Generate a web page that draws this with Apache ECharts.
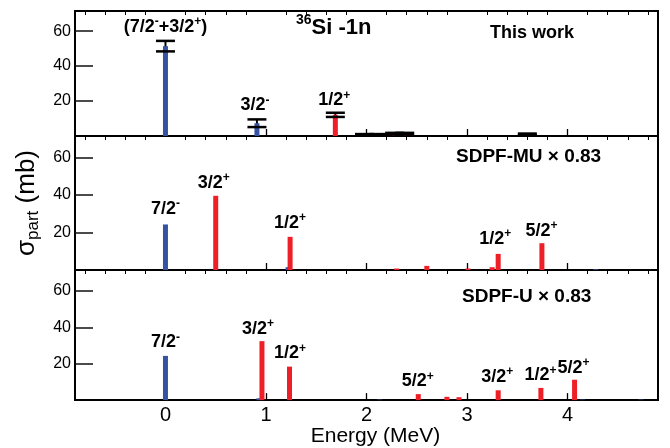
<!DOCTYPE html>
<html>
<head>
<meta charset="utf-8">
<script src="https://cdn.jsdelivr.net/npm/echarts@6/dist/echarts.min.js"></script>
<style>
html,body{margin:0;padding:0;background:#fff;}
#chart{width:670px;height:448px;}
</style>
</head>
<body>
<div id="chart"></div>
<script>
// ---------------- data ----------------
const energyRange = [-0.9, 4.9];
const sigmaRange = [0, 71.5];
const energyTicks = [0, 1, 2, 3, 4];
const sigmaTicks = [20, 40, 60];

// Panel 1: This work (experiment)
const expEnergy = [0, 0.91, 1.69, 1.98, 2.12, 2.28, 2.38, 3.60];
const expSigma  = [51.4, 7.3, 12.1, 0.7, 0.7, 1.3, 1.3, 1.0];
const expError  = [3.0, 2.2, 1.2, 0.4, 0.4, 0.5, 0.5, 0.4];
const expParity = ['-', '-', '+', '+', '+', '+', '+', '+'];
const expLabelText   = ['(7/2^-+3/2^+)', '3/2^-', '1/2^+'];
const expLabelEnergy = [0, 0.89, 1.68];
const expLabelSigma  = [62.9, 18.1, 21.0];

// Panel 2: SDPF-MU x 0.83
const muEnergy = [0, 0.50, 1.22, 1.24, 2.30, 2.60, 3.01, 3.25, 3.31, 3.745, 4.28];
const muSigma  = [24.3, 39.6, 1.5, 17.7, 0.8, 2.2, 0.8, 1.5, 8.6, 14.3, 0.4];
const muParity = ['-', '+', '-', '+', '+', '+', '+', '+', '+', '+', '-'];
const muLabelText   = ['7/2^-', '3/2^+', '1/2^+', '1/2^+', '5/2^+'];
const muLabelEnergy = [0, 0.48, 1.24, 3.28, 3.74];
const muLabelSigma  = [33.2, 47.2, 25.7, 17.2, 21.4];

// Panel 3: SDPF-U x 0.83
const uEnergy = [0, 0.93, 0.96, 1.234, 2.13, 2.515, 2.80, 2.92, 3.31, 3.735, 4.07, 4.15, 4.73];
const uSigma  = [24.3, 1.0, 32.4, 18.4, 0.3, 3.3, 1.8, 1.6, 5.4, 6.7, 11.2, 0.3, 0.3];
const uParity = ['-', '-', '+', '+', '-', '+', '+', '+', '+', '+', '+', '-', '-'];
const uLabelText   = ['7/2^-', '3/2^+', '1/2^+', '5/2^+', '3/2^+', '1/2^+', '5/2^+'];
const uLabelEnergy = [0, 0.92, 1.24, 2.51, 3.30, 3.73, 4.06];
const uLabelSigma  = [32.3, 39.8, 26.3, 10.8, 13.4, 14.1, 18.2];

// ---------------- styling ----------------
const FONT = '"Liberation Sans", Arial, Helvetica, sans-serif';
const BLUE = '#3652a3';
const RED = '#ee1f26';

const minorTicks = [];
for (let k = -4; k <= 24; k++) {
  const v = Math.round(k * 0.2 * 10) / 10;
  if (Math.abs(v - Math.round(v)) > 1e-6) minorTicks.push(v);
}

function spinRich(txt) {
  let out = '';
  const parts = txt.split(/(\^[+-])/);
  parts.forEach(p => {
    if (!p) return;
    if (p[0] === '^') out += '{p|' + p[1] + '}';
    else out += '{n|' + p + '}';
  });
  return out;
}

const labelRich = {
  n: {fontFamily: FONT, fontSize: 18, fontWeight: 'bold', color: '#000', verticalAlign: 'bottom', lineHeight: 20,
      textBorderWidth: 0},
  p: {fontFamily: FONT, fontSize: 12, fontWeight: 'bold', color: '#000', verticalAlign: 'top', lineHeight: 20,
      textBorderWidth: 0}
};

function barSeries(panel, energies, sigmas, parities, sign, color, z) {
  const data = [];
  energies.forEach((e, i) => { if (parities[i] === sign) data.push([e, sigmas[i]]); });
  return {
    type: 'custom', xAxisIndex: panel, yAxisIndex: panel, z: z, silent: true,
    data: data,
    renderItem: function (params, api) {
      const top = api.coord([api.value(0), api.value(1)]);
      const base = api.coord([api.value(0), 0]);
      return {type: 'rect', shape: {x: top[0] - 2.5, y: top[1], width: 5, height: base[1] - top[1]},
              style: {fill: color}};
    }
  };
}

function labelSeries(panel, texts, es, ss) {
  return {
    type: 'scatter', xAxisIndex: panel, yAxisIndex: panel, symbolSize: 0, silent: true, z: 10,
    itemStyle: {color: '#fff', opacity: 1},
    data: texts.map((t, i) => ({value: [es[i], ss[i]], label: {formatter: spinRich(t)}})),
    label: {show: true, position: 'inside', color: '#000', opacity: 1, textBorderWidth: 0, rich: labelRich}
  };
}

const errData = expEnergy.map((e, i) => [e, expSigma[i] - expError[i], expSigma[i] + expError[i]]);

const errLineSeries = {
  type: 'custom', xAxisIndex: 0, yAxisIndex: 0, z: 1, silent: true,
  encode: {x: 0, y: [1, 2]},
  data: errData,
  renderItem: function (params, api) {
    const lo = api.coord([api.value(0), api.value(1)]);
    const hi = api.coord([api.value(0), api.value(2)]);
    return {type: 'line', shape: {x1: lo[0], y1: lo[1], x2: hi[0], y2: hi[1]},
            style: {stroke: '#000', lineWidth: 2}};
  }
};
const errCapSeries = {
  type: 'custom', xAxisIndex: 0, yAxisIndex: 0, z: 5, silent: true,
  encode: {x: 0, y: [1, 2]},
  data: errData,
  renderItem: function (params, api) {
    const lo = api.coord([api.value(0), api.value(1)]);
    const hi = api.coord([api.value(0), api.value(2)]);
    const hw = 9.5;
    return {type: 'group', children: [
      {type: 'line', shape: {x1: lo[0] - hw, y1: lo[1], x2: lo[0] + hw, y2: lo[1]}, style: {stroke: '#000', lineWidth: 2.5}},
      {type: 'line', shape: {x1: hi[0] - hw, y1: hi[1], x2: hi[0] + hw, y2: hi[1]}, style: {stroke: '#000', lineWidth: 2.5}}
    ]};
  }
};

const gridTops = [11, 136, 270];
const gridHeights = [125, 134, 132];

const grids = gridTops.map((t, i) => ({
  left: 75, top: t, width: 583, height: gridHeights[i],
  show: true, borderColor: '#000', borderWidth: 2, backgroundColor: 'transparent'
}));

const xMain = [0, 1, 2].map(i => ({
  type: 'value', gridIndex: i, min: energyRange[0], max: energyRange[1],
  axisLine: {show: true, onZero: false, lineStyle: {color: '#000', width: 2}},
  axisTick: {show: true, inside: true, length: 7, customValues: energyTicks, lineStyle: {color: '#000', width: 1.3}},
  axisLabel: {show: i === 2, customValues: energyTicks, fontSize: 20, margin: 5, color: '#000', fontFamily: FONT},
  splitLine: {show: false},
  name: i === 2 ? 'Energy (MeV)' : '',
  nameLocation: 'middle', nameGap: 25,
  nameTextStyle: {fontSize: 21, color: '#000', fontFamily: FONT, padding: [0, 0, 0, 18]}
}));
const xMinor = [0, 1, 2].map(i => ({
  type: 'value', gridIndex: i, min: energyRange[0], max: energyRange[1],
  axisLine: {show: false, onZero: false},
  axisTick: {show: true, inside: true, length: 4, customValues: minorTicks, lineStyle: {color: '#000', width: 1}},
  axisLabel: {show: false},
  splitLine: {show: false}
}));

const yAxes = [0, 1, 2].map(i => ({
  type: 'value', gridIndex: i, min: sigmaRange[0], max: sigmaRange[1], position: 'left',
  axisLine: {show: true, onZero: false, lineStyle: {color: '#000', width: 2}},
  axisTick: {show: true, inside: true, length: 18, customValues: sigmaTicks, lineStyle: {color: '#111', width: 1.5}},
  axisLabel: {customValues: sigmaTicks, fontSize: 16, margin: 4, color: '#000', fontFamily: FONT},
  splitLine: {show: false},
  name: i === 1 ? '{s|σ}{sub|part}{s| (mb)}' : '',
  nameLocation: 'middle', nameRotate: 90, nameGap: 30,
  nameTextStyle: {
    rich: {
      s: {fontSize: 26, fontFamily: FONT, color: '#000', verticalAlign: 'middle', lineHeight: 30},
      sub: {fontSize: 17, fontFamily: FONT, color: '#000', verticalAlign: 'bottom', lineHeight: 30}
    }
  }
}));

const boldT = {fontFamily: FONT, fontWeight: 'bold', color: '#000'};
const titles = [
  {text: '{sup|36}{m|Si -1n}', left: 296, top: 13, padding: 0,
   textStyle: {rich: {
     sup: Object.assign({fontSize: 14, verticalAlign: 'top', lineHeight: 26}, boldT),
     m: Object.assign({fontSize: 22, verticalAlign: 'bottom', lineHeight: 26}, boldT)
   }}},
  {text: 'This work', left: 490, top: 24, padding: 0,
   textStyle: Object.assign({fontSize: 18}, boldT)},
  {text: '{b|SDPF-MU }{x|×}{b| 0.83}', left: 456, top: 147, padding: 0,
   textStyle: {rich: {
     b: Object.assign({fontSize: 19}, boldT),
     x: {fontSize: 19, fontFamily: FONT, color: '#000'}
   }}},
  {text: '{b|SDPF-U }{x|×}{b| 0.83}', left: 462, top: 287, padding: 0,
   textStyle: {rich: {
     b: Object.assign({fontSize: 19}, boldT),
     x: {fontSize: 19, fontFamily: FONT, color: '#000'}
   }}}
];

const series = [
  errLineSeries,
  barSeries(0, expEnergy, expSigma, expParity, '-', BLUE, 2),
  barSeries(0, expEnergy, expSigma, expParity, '+', RED, 3),
  errCapSeries,
  labelSeries(0, expLabelText, expLabelEnergy, expLabelSigma),
  barSeries(1, muEnergy, muSigma, muParity, '-', BLUE, 2),
  barSeries(1, muEnergy, muSigma, muParity, '+', RED, 3),
  labelSeries(1, muLabelText, muLabelEnergy, muLabelSigma),
  barSeries(2, uEnergy, uSigma, uParity, '-', BLUE, 2),
  barSeries(2, uEnergy, uSigma, uParity, '+', RED, 3),
  labelSeries(2, uLabelText, uLabelEnergy, uLabelSigma)
];

const chart = echarts.init(document.getElementById('chart'), null, {renderer: 'canvas'});
chart.setOption({
  animation: false,
  backgroundColor: '#fff',
  title: titles,
  grid: grids,
  xAxis: xMain.concat(xMinor),
  yAxis: yAxes,
  series: series
});
</script>
</body>
</html>
